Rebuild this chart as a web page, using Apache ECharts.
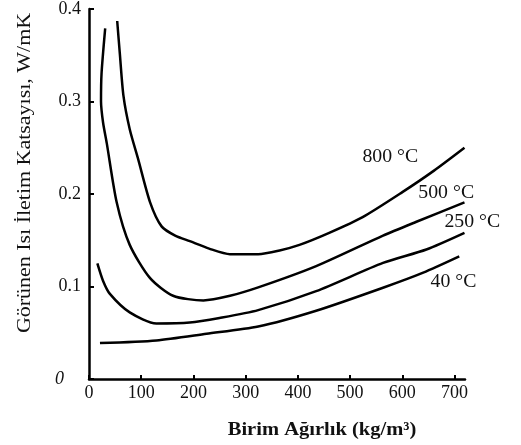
<!DOCTYPE html>
<html><head><meta charset="utf-8">
<script src="https://cdn.jsdelivr.net/npm/echarts@6/dist/echarts.min.js"></script>
<style>html,body{margin:0;padding:0;background:#fff}#c{width:521px;height:445px}</style>
</head><body><div id="c"></div>
<script>
const xTicks = [0, 100, 200, 300, 400, 500, 600, 700];
const yTicks = [0, 0.1, 0.2, 0.3, 0.4];
const seriesNames = ['800 °C', '500 °C', '250 °C', '40 °C'];
const x800 = [54, 59, 66, 78, 94, 117, 139, 165, 193, 230, 270, 324, 365, 403, 460, 524, 600, 660, 719];
const y800 = [0.387, 0.352, 0.306, 0.270, 0.238, 0.191, 0.165, 0.155, 0.149, 0.141, 0.135, 0.135, 0.139, 0.145, 0.158, 0.175, 0.202, 0.225, 0.250];
const x500 = [31, 24, 23, 27, 34, 53, 78, 117, 161, 219, 270, 324, 435, 563, 627, 719];
const y500 = [0.379, 0.330, 0.300, 0.277, 0.255, 0.191, 0.145, 0.109, 0.090, 0.085, 0.090, 0.099, 0.122, 0.155, 0.170, 0.191];
const x250 = [16, 27, 40, 78, 129, 193, 250, 324, 435, 563, 646, 719];
const y250 = [0.125, 0.106, 0.092, 0.072, 0.060, 0.061, 0.066, 0.0745, 0.095, 0.1255, 0.140, 0.158];
const x40 = [21, 129, 225, 324, 435, 563, 640, 709];
const y40 = [0.0388, 0.0417, 0.0489, 0.0567, 0.0738, 0.0987, 0.115, 0.1326];
// label centre positions (data coords)
const labelX = [577, 684, 734, 698];
const labelY = [0.2396, 0.2005, 0.169, 0.1048];

const xs = [x800, x500, x250, x40];
const ys = [y800, y500, y250, y40];
const font = 'Liberation Serif';
const chart = echarts.init(document.getElementById('c'));
const series = xs.map((xa, i) => ({
  type: 'line',
  name: seriesNames[i],
  data: xa.map((v, j) => [v, ys[i][j]]),
  smooth: 0.25,
  showSymbol: false,
  symbol: 'none',
  lineStyle: { color: '#000', width: 2.5 },
  silent: true
}));
chart.setOption({
  animation: false,
  grid: { left: 89, right: 56, top: 5, bottom: 66 },
  xAxis: {
    type: 'value', min: 0, max: 720,
    axisLine: { show: true, lineStyle: { color: '#000', width: 2.5 } },
    axisTick: { show: true, inside: true, length: 4, customValues: xTicks, lineStyle: { color: '#000', width: 2 } },
    axisLabel: { customValues: xTicks, fontFamily: font, fontSize: 18, color: '#111', margin: 5 },
    splitLine: { show: false }
  },
  yAxis: {
    type: 'value', min: 0, max: 0.4, interval: 0.1,
    axisLine: { show: true, lineStyle: { color: '#000', width: 2.5 } },
    axisTick: { show: true, inside: true, length: 5, lineStyle: { color: '#000', width: 2 } },
    axisLabel: { fontFamily: font, fontSize: 18, color: '#111', margin: 8,
      formatter: v => v === 0 ? '{z|0}' : v.toFixed(1),
      rich: { z: { fontFamily: font, fontSize: 18, fontStyle: 'italic', color: '#111', padding: [0, 17, 0, 0] } } },
    splitLine: { show: false }
  },
  series: series
});
const graphics = [
  { type: 'text', x: 25, y: 173, rotation: Math.PI / 2, scaleX: 1.22,
    style: { text: 'Görünen Isı İletim Katsayısı, W/mK', fontFamily: font, fontSize: 18, fill: '#111',
      textAlign: 'center', textVerticalAlign: 'middle' } },
  { type: 'text', x: 322, y: 430, scaleX: 1.08,
    style: { text: 'Birim Ağırlık (kg/m³)', fontFamily: font, fontSize: 19, fontWeight: 'bold', fill: '#111',
      textAlign: 'center', textVerticalAlign: 'middle' } }
];
seriesNames.forEach((n, i) => {
  const p = chart.convertToPixel({ gridIndex: 0 }, [labelX[i], labelY[i]]);
  graphics.push({ type: 'text', x: p[0], y: p[1], scaleX: 1.1,
    style: { text: n, fontFamily: font, fontSize: 18, fill: '#111', textAlign: 'center', textVerticalAlign: 'middle' } });
});
chart.setOption({ graphic: graphics });
</script></body></html>
